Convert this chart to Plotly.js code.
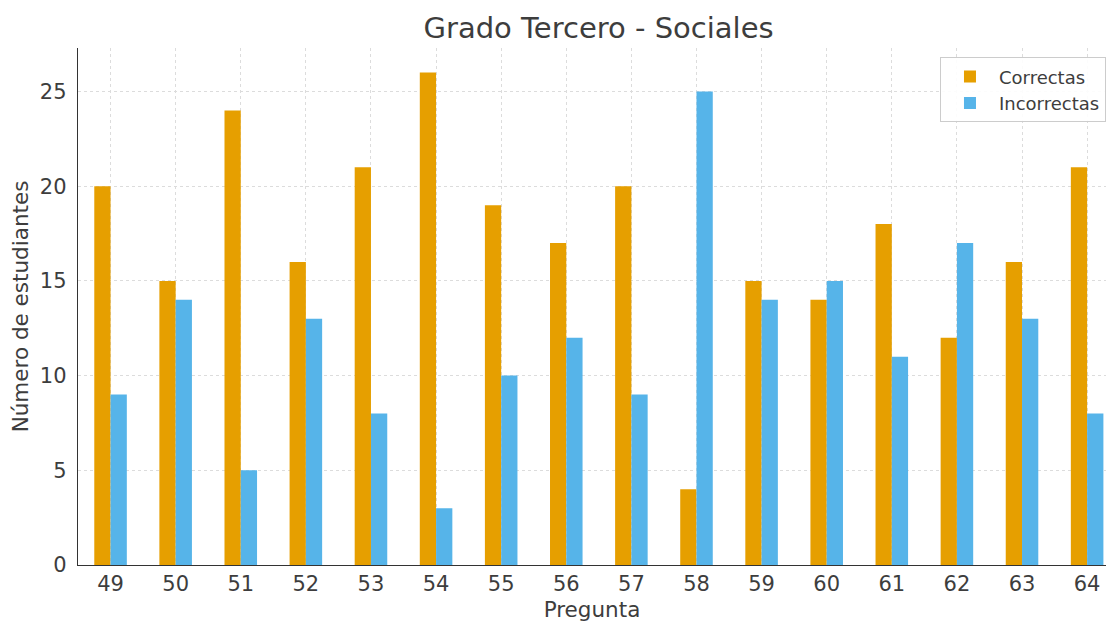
<!DOCTYPE html>
<html>
<head>
<meta charset="utf-8">
<script src="https://cdn.plot.ly/plotly-3.0.1.min.js"></script>
<style>html,body{margin:0;padding:0;background:#fff;}#chart{width:1106px;height:622px;}</style>
</head>
<body>
<div id="chart"></div>
<script>
const preguntas = ["49","50","51","52","53","54","55","56","57","58","59","60","61","62","63","64"];
const correctas = [20,15,24,16,21,26,19,17,20,4,15,14,18,12,16,21];
const incorrectas = [9,14,5,13,8,3,10,12,9,25,14,15,11,17,13,8];

const font = {family: "DejaVu Sans, sans-serif", color: "#3d3d3d"};
const data = [
  {type: "bar", name: "Correctas", x: preguntas, y: correctas, marker: {color: "#E69F00"}},
  {type: "bar", name: "Incorrectas", x: preguntas, y: incorrectas, marker: {color: "#56B4E9"}}
];
const layout = {
  width: 1106, height: 622,
  margin: {l: 78, r: 0, t: 48, b: 57},
  paper_bgcolor: "#fff", plot_bgcolor: "#fff",
  font: Object.assign({size: 20}, font),
  barmode: "group", bargap: 0.5, bargroupgap: 0,
  title: {text: "Grado Tercero - Sociales", font: Object.assign({}, font, {size: 29}), x: 0.5412, xref: "container", xanchor: "center", y: 0.956, yref: "container", yanchor: "middle"},
  xaxis: {
    type: "category", range: [-0.5, 15.29],
    title: {text: "Pregunta", font: Object.assign({}, font, {size: 21.5}), standoff: 6},
    showline: true, linecolor: "#333", linewidth: 1.2,
    showgrid: true, gridcolor: "#dcdcdc", griddash: "3px,3px", gridwidth: 1,
    ticks: "", tickfont: Object.assign({}, font, {size: 21}), zeroline: false
  },
  yaxis: {
    range: [0, 27.3], dtick: 5,
    title: {text: "Número de estudiantes", font: Object.assign({}, font, {size: 21.5}), standoff: 5},
    showline: true, linecolor: "#333", linewidth: 1.2,
    showgrid: true, gridcolor: "#dcdcdc", griddash: "3px,3px", gridwidth: 1,
    ticks: "", ticklabelstandoff: 6, tickfont: Object.assign({}, font, {size: 21}), zeroline: false
  },
  legend: {
    x: 0.8385, y: 0.982, xanchor: "left", yanchor: "top",
    bgcolor: "rgba(255,255,255,0.9)", bordercolor: "#cccccc", borderwidth: 1,
    font: Object.assign({}, font, {size: 18}), tracegroupgap: 2, itemwidth: 48
  },
  showlegend: true
};
Plotly.newPlot("chart", data, layout, {displayModeBar: false, staticPlot: true});
</script>
</body>
</html>
